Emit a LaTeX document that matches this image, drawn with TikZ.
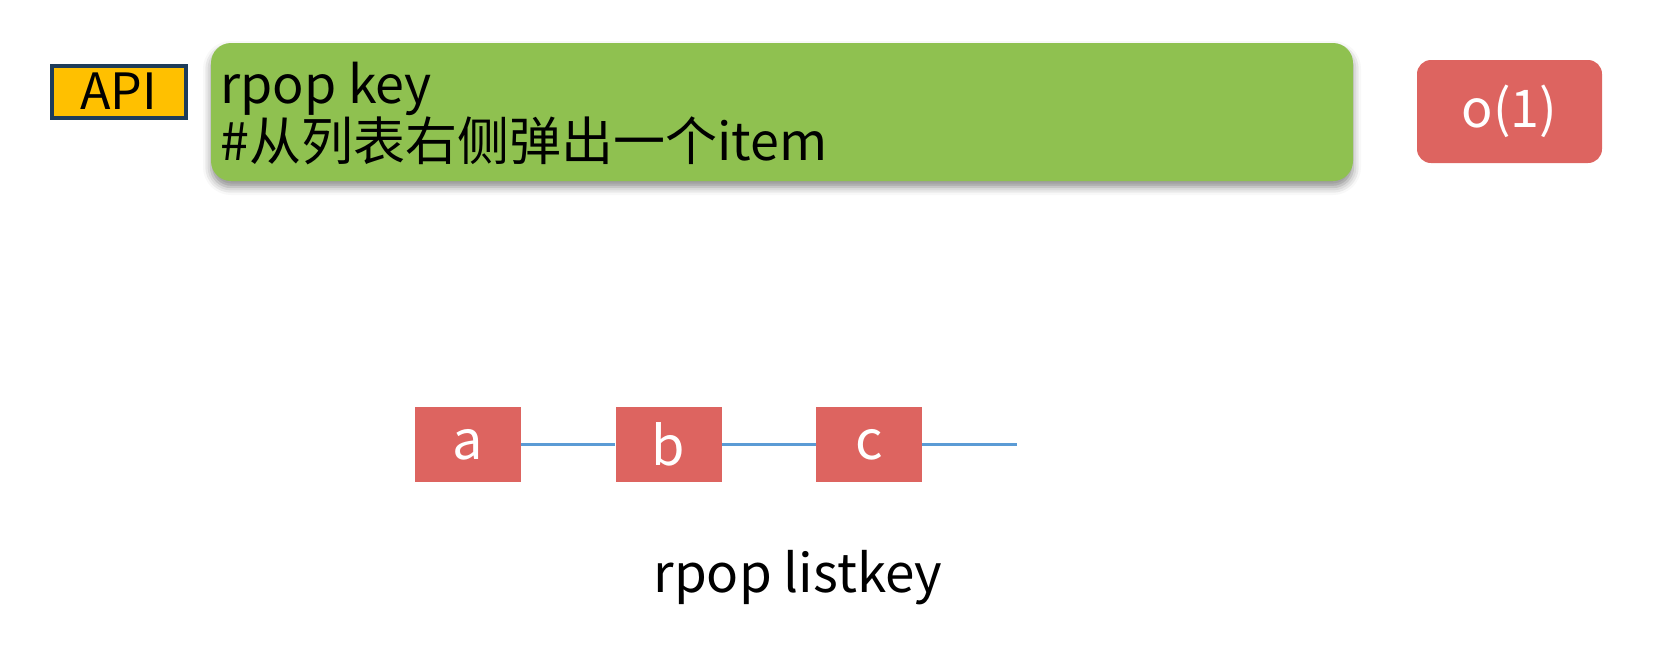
\documentclass[tikz,border=0pt]{standalone}
\usepackage{fontspec}
\newfontfamily\cjk{Noto Sans CJK SC}
\usetikzlibrary{shadows.blur}
\definecolor{apiorange}{RGB}{255,192,0}
\definecolor{apiborder}{RGB}{30,60,90}
\definecolor{boxgreen}{RGB}{143,193,80}
\definecolor{boxred}{RGB}{221,100,96}
\definecolor{lineblue}{RGB}{91,155,213}
\newcommand{\lowered}[1]{\raisebox{-1.5pt}{#1}}
\tikzset{
  apibox/.style={draw=apiborder, line width=2pt, fill=apiorange, minimum width=67pt, minimum height=26pt, inner sep=0pt, font=\cjk\fontsize{25}{27}\selectfont},
  cmdbox/.style={fill=boxgreen, rounded corners=10pt, minimum width=571pt, minimum height=69pt, inner sep=0pt,
     blur shadow={shadow xshift=0pt, shadow yshift=-3pt, shadow opacity=45, shadow blur radius=4pt}},
  cmdtext/.style={anchor=base west, inner sep=0pt, font=\cjk\fontsize{26}{28}\selectfont},
  cplx/.style={fill=boxred, rounded corners=7pt, minimum width=92.5pt, minimum height=51.5pt, inner sep=0pt, text=white, font=\cjk\fontsize{26}{28}\selectfont},
  item/.style={fill=boxred, minimum width=53pt, minimum height=37.5pt, inner sep=0pt, text=white, font=\cjk\fontsize{27}{29}\selectfont},
  link/.style={draw=lineblue, line width=1.2pt},
  caption/.style={anchor=base, inner sep=0pt, font=\cjk\fontsize{26.5}{28}\selectfont}
}
\begin{document}
\begin{tikzpicture}[x=0.5pt, y=-0.5pt]
\useasboundingbox (0,0) rectangle (1654,650);
\node[apibox] (api) at (118.5,91.5) {\lowered{API}};
\node[cmdbox] (cmd) at (782,112) {};
\node[cmdtext] (l1) at (220,103) {rpop key};
\node[cmdtext] (l2) at (220,160) {\#从列表右侧弹出一个item};
\node[cplx] (o1) at (1509.5,111.5) {o(1)};
\node[item] (a) at (468,444.5) {\lowered{a}};
\node[item] (b) at (668.5,444.5) {\lowered{b}};
\node[item] (c) at (869,444.5) {\lowered{c}};
\coordinate (end) at (1017,444.5);
\draw[link] (a.east) -- (b.west);
\draw[link] (b.east) -- (c.west);
\draw[link] (c.east) -- (end);
\node[caption] (cap) at (798,592) {rpop listkey};
\end{tikzpicture}
\end{document}
